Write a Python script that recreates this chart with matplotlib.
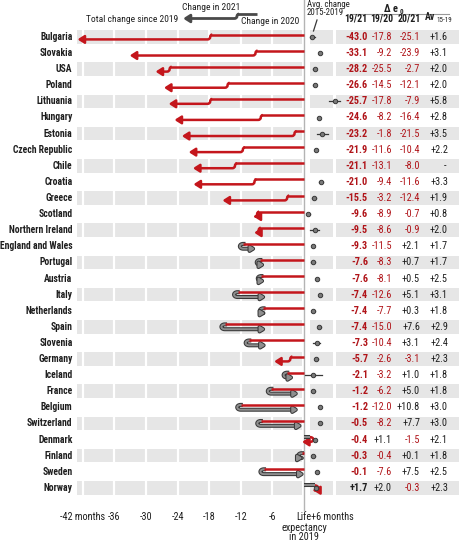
import numpy as np
import matplotlib
matplotlib.use('Agg')
import matplotlib.pyplot as plt
import matplotlib.patheffects as pe
from matplotlib import font_manager as fm
from matplotlib.patches import FancyArrowPatch, Rectangle
from matplotlib.path import Path

# look for a narrow font; fall back to Roboto at a smaller size
narrow = None
for f in fm.fontManager.ttflist:
    if f.stretch in ('condensed', 'semi-condensed', 'extra-condensed') or 'Narrow' in f.name \
            or 'Condensed' in f.name:
        if narrow is None or 'Roboto' in f.name or 'Liberation' in f.name:
            narrow = f
if narrow is not None:
    plt.rcParams['font.family'] = [narrow.name, 'DejaVu Sans']
    plt.rcParams['font.stretch'] = narrow.stretch
    FS = 1.0
else:
    plt.rcParams['font.family'] = ['Roboto', 'DejaVu Sans']
    FS = 0.82

countries = ['Bulgaria', 'Slovakia', 'USA', 'Poland', 'Lithuania', 'Hungary', 'Estonia',
             'Czech Republic', 'Chile', 'Croatia', 'Greece', 'Scotland', 'Northern Ireland',
             'England and Wales', 'Portugal', 'Austria', 'Italy', 'Netherlands', 'Spain',
             'Slovenia', 'Germany', 'Iceland', 'France', 'Belgium', 'Switzerland', 'Denmark',
             'Finland', 'Sweden', 'Norway']
change_19_21 = [-43.0, -33.1, -28.2, -26.6, -25.7, -24.6, -23.2, -21.9, -21.1, -21.0, -15.5,
                -9.6, -9.5, -9.3, -7.6, -7.6, -7.4, -7.4, -7.4, -7.3, -5.7, -2.1, -1.2, -1.2,
                -0.5, -0.4, -0.3, -0.1, 1.7]
change_19_20 = [-17.8, -9.2, -25.5, -14.5, -17.8, -8.2, -1.8, -11.6, -13.1, -9.4, -3.2,
                -8.9, -8.6, -11.5, -8.3, -8.1, -12.6, -7.7, -15.0, -10.4, -2.6, -3.2, -6.2,
                -12.0, -8.2, 1.1, -0.4, -7.6, 2.0]
change_20_21 = [-25.1, -23.9, -2.7, -12.1, -7.9, -16.4, -21.5, -10.4, -8.0, -11.6, -12.4,
                -0.7, -0.9, 2.1, 0.7, 0.5, 5.1, 0.3, 7.6, 3.1, -3.1, 1.0, 5.0, 10.8, 7.7,
                -1.5, 0.1, 7.5, -0.3]
avg_15_19 = [1.6, 3.1, 2.0, 2.0, 5.8, 2.8, 3.5, 2.2, np.nan, 3.3, 1.9, 0.8, 2.0, 1.7, 1.7,
             2.5, 3.1, 1.8, 2.9, 2.4, 2.3, 1.8, 1.8, 3.0, 3.0, 2.1, 1.8, 2.5, 2.3]
avg_err = [0.5, 0.2, 0.2, 0.2, 1.1, 0.2, 1.0, 0.2, np.nan, 0.4, 0.3, 0.3, 0.8, 0.2, 0.3,
           0.2, 0.2, 0.2, 0.3, 0.6, 0.3, 1.7, 0.2, 0.2, 0.2, 0.2, 0.2, 0.2, 0.3]
month_ticks = [-42, -36, -30, -24, -18, -12, -6, 6]
month_labels = ['-42 months', '-36', '-30', '-24', '-18', '-12', '-6', '+6 months']

RED = '#c4161c'
GREY = '#8e8e8e'
DARK = '#383838'
BAND = '#e6e6e6'
TXT_RED = '#b01419'
TXT = '#1e1e1e'

# layout: one axes over the whole figure, x in months, y in rows
PX_PER_MONTH = 5.27
ZERO_PX = 304
ROW_PX = 16.1
TOP_PX = 37


def px(x):
    return (x - ZERO_PX) / PX_PER_MONTH


def py(y):
    return (y - TOP_PX) / ROW_PX


fig = plt.figure(figsize=(4.6, 5.42), dpi=100)
ax = fig.add_axes([0, 0, 1, 1])
ax.set_xlim(px(0), px(460))
ax.set_ylim(py(542), py(0))
ax.axis('off')

n = len(countries)

# background bands
for i in range(0, n + 1, 2):
    h = 0.85 if i < n else 0.25
    for a, b in [(77, 302), (310, 333), (336, 460)]:
        ax.add_patch(Rectangle((px(a), i - h / 2), px(b) - px(a), h,
                               facecolor=BAND, edgecolor='none', zorder=0))
for t in month_ticks[:-1]:
    ax.plot([t, t], [-0.5, n + 0.2], color='white', lw=1.6, zorder=1)
ax.plot([0, 0], [py(0), py(510)], color='#b4b4b4', lw=1.0, zorder=1)


def seg_style(v, color=None):
    # colour, line width, path effects, arrow head (length, width)
    if color is not None:
        return color, 2.0, [], (0.38, 0.24)
    if v < 0:
        return RED, 1.8, [], (0.38, 0.24)
    return GREY, 1.4, [pe.Stroke(linewidth=2.9, foreground=DARK), pe.Normal()], (0.26, 0.16)


def draw_change(d20, total, yt, yb, x0=0, c1=None, c2=None):
    d21 = total - d20
    col1, lw1, fx1, _ = seg_style(d20 - x0, c1)
    col2, lw2, fx2, head = seg_style(d21, c2)
    dir20 = np.sign(d20 - x0) if d20 != x0 else -1
    dir21 = np.sign(d21) if d21 != 0 else -dir20
    ov = min(0.4, abs(d20 - x0))
    ym = (yt + yb) / 2
    if dir21 == dir20:
        a = min(0.5, abs(d21) * 0.5)
        verts = [(d20 - dir21 * ov, yt), (d20, yt), (d20, ym), (d20, yb),
                 (d20 + dir21 * a, yb), (total, yb)]
        codes = [Path.MOVETO, Path.CURVE3, Path.CURVE3, Path.CURVE3, Path.CURVE3, Path.LINETO]
    else:
        r = 0.9
        verts = [(d20 - dir20 * ov, yt), (d20, yt), (d20 + dir20 * r, yt),
                 (d20 + dir20 * r, yb), (d20, yb), (total, yb)]
        codes = [Path.MOVETO, Path.LINETO, Path.CURVE4, Path.CURVE4, Path.CURVE4, Path.LINETO]
    arr = FancyArrowPatch(path=Path(verts, codes),
                          arrowstyle=f'-|>,head_length={head[0]},head_width={head[1]}',
                          mutation_scale=10, color=col2, lw=lw2, shrinkA=0, shrinkB=0,
                          capstyle='butt', joinstyle='round', zorder=3)
    if fx2:
        arr.set_path_effects(fx2)
    ax.add_patch(arr)
    ax.plot([x0, d20], [yt, yt], color=col1, lw=lw1,
            solid_capstyle='butt', path_effects=fx1 or None, zorder=4)


for i in range(n):
    draw_change(change_19_20[i], change_19_21[i], i - 0.15, i + 0.15)

# legend arrow at the top
col_leg = '#4a4a4a'
draw_change(px(237), px(183), py(14), py(18.5), x0=px(257), c1=col_leg, c2=col_leg)
ax.text(px(182), py(8), 'Change in 2021', ha='left', va='center', fontsize=6.8 * FS, color=TXT)
ax.text(px(178), py(19), 'Total change since 2019', ha='right', va='center',
        fontsize=6.8 * FS, color=TXT)
ax.text(px(241), py(21.5), 'Change in 2020', ha='left', va='center', fontsize=6.8 * FS,
        color=TXT)

# country labels
for i, c in enumerate(countries):
    ax.text(px(72.5), i, c, ha='right', va='center', fontsize=6.9 * FS, fontweight='bold',
            color=TXT)

# avg change dots
for i in range(n):
    if np.isnan(avg_15_19[i]):
        continue
    ax.plot([avg_15_19[i] - avg_err[i], avg_15_19[i] + avg_err[i]], [i, i],
            color=DARK, lw=0.9, zorder=5)
    ax.plot(avg_15_19[i], i, 'o', ms=3.2, mfc='#7a7a7a', mec=DARK, mew=0.7, zorder=6)

ax.text(px(307), py(0), 'Avg. change\n2015-2019', ha='left', va='top', fontsize=6.3 * FS,
        color=TXT, linespacing=0.8)
ax.plot([px(317), px(313.5)], [py(20), py(31)], color=DARK, lw=0.9)

# table
col_x = [px(368), px(392), px(420), px(448)]
headers = ['19/21', '19/20', '20/21']
head_x = [px(367), px(393.5), px(421)]
for x, h in zip(head_x, headers):
    ax.text(x, py(18), h, ha='right', va='center', fontsize=7.0 * FS, fontweight='bold',
            color=TXT)
ax.text(px(435.5), py(17.5), 'Av', ha='right', va='center', fontsize=7.0 * FS,
        fontweight='bold', color=TXT)
ax.text(px(436), py(20), '15-19', ha='left', va='center', fontsize=5 * FS, color=TXT)
ax.text(px(398), py(9), 'Δ e', ha='right', va='center', fontsize=7.4 * FS, fontweight='bold',
        color=TXT)
ax.text(px(400), py(12), '0', ha='left', va='center', fontsize=5 * FS, fontweight='bold',
        color=TXT)
ax.plot([px(350), px(449)], [py(14), py(14)], color='#999999', lw=0.8)


def fmt(v):
    return f'{v:+.1f}'.replace('+-', '-')


for i in range(n):
    v = change_19_21[i]
    ax.text(col_x[0], i, fmt(v), ha='right', va='center', fontsize=7.4 * FS,
            fontweight='bold', color=TXT_RED if v < 0 else TXT)
    for x, vals in [(col_x[1], change_19_20), (col_x[2], change_20_21)]:
        v = vals[i]
        ax.text(x, i, fmt(v), ha='right', va='center', fontsize=7.4 * FS,
                color=TXT_RED if v < 0 else TXT)
    a = avg_15_19[i]
    ax.text(col_x[3] if not np.isnan(a) else px(446), i, fmt(a) if not np.isnan(a) else '-',
            ha='right', va='center', fontsize=7.4 * FS, color=TXT)

# bottom axis labels
for t, lab in zip(month_ticks[:-1], month_labels[:-1]):
    ax.text(t, py(517), lab, ha='center', va='center', fontsize=7.4 * FS, color=TXT)
ax.text(px(311), py(517), month_labels[-1], ha='left', va='center', fontsize=7.4 * FS,
        color=TXT)
ax.text(0, py(517), 'Life', ha='center', va='center', fontsize=7.4 * FS, color=TXT)
ax.text(0, py(528), 'expectancy', ha='center', va='center', fontsize=7.4 * FS, color=TXT)
ax.text(0, py(537.5), 'in 2019', ha='center', va='center', fontsize=7.4 * FS, color=TXT)

fig.savefig('out.png', dpi=100)
